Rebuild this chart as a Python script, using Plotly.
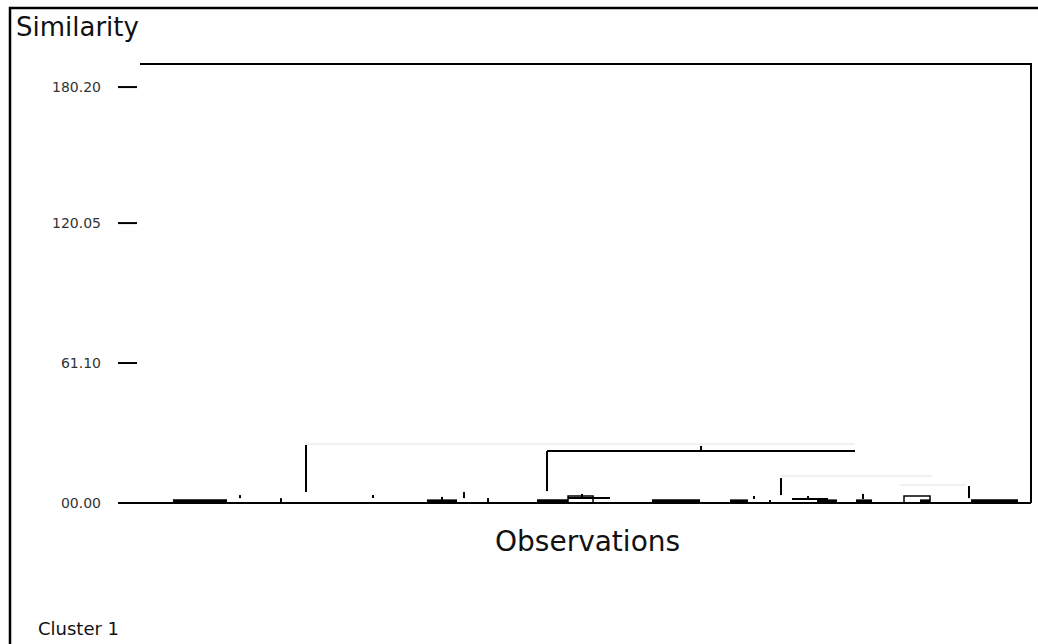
import plotly.graph_objects as go

# ---------------- data ----------------
# y axis: similarity
tick_vals = [0.0, 60.07, 120.13, 178.5]
tick_text = ["00.00", "61.10", "120.05", "180.20"]

# x positions are observation positions on a 0..100 scale
# root link (top bar and right side)
root_x0, root_x1, root_h = 2.41, 100.0, 188.4

# structural stems (x, low, high) in similarity units
stem_x  = [20.59, 46.99, 63.86, 72.62, 93.21, 13.36, 17.85, 27.93, 35.49, 37.90, 40.53, 50.82, 69.66, 71.41, 75.58, 81.60]
stem_lo = [4.7,   5.1,   22.3,  3.4,   2.1,   2.1,   0.0,   2.1,   1.3,   2.1,   0.0,   2.1,   1.7,   0.0,   1.7,   1.7]
stem_hi = [24.9,  22.3,  24.5,  10.7,  7.3,   3.4,   2.1,   3.4,   2.6,   4.7,   2.1,   3.9,   3.0,   1.3,   3.0,   3.9]

# horizontal links (x0, x1, h)
hlink_x0 = [46.99, 49.29, 73.82]
hlink_x1 = [80.72, 53.89, 77.77]
hlink_h  = [22.3,  2.1,   1.7]

# faint grey links (x0, x1, h)
faint_x0 = [20.59, 72.62, 85.65]
faint_x1 = [80.72, 89.16, 92.88]
faint_h  = [25.3,  11.6,  7.7]

# dense clusters drawn as thick bars on the baseline (x0, x1)
bar_x0 = [6.02, 33.84, 45.89, 58.49, 67.03, 76.56, 80.83, 87.84, 93.43]
bar_x1 = [11.94, 37.13, 49.29, 63.75, 69.00, 78.75, 82.59, 88.94, 98.58]

# small hollow boxes (x0, x1, h)
box_x0 = [49.29, 86.09]
box_x1 = [52.03, 88.94]
box_h  = [3.0,   3.0]

dash_len = 2.08  # tick dash length on the x scale


def segs(pairs):
    xs, ys = [], []
    for (xa, ya, xb, yb) in pairs:
        xs += [xa, xb, None]
        ys += [ya, yb, None]
    return xs, ys


fig = go.Figure()

# faint links
xs, ys = segs([(a, h, b, h) for a, b, h in zip(faint_x0, faint_x1, faint_h)])
fig.add_trace(go.Scatter(x=xs, y=ys, mode="lines", line=dict(color="#ededed", width=1.5),
                         hoverinfo="skip", showlegend=False))

# baseline
fig.add_trace(go.Scatter(x=[0, root_x1], y=[0, 0], mode="lines", line=dict(color="black", width=2),
                         hoverinfo="skip", showlegend=False))

# root
fig.add_trace(go.Scatter(x=[root_x0, root_x1, root_x1], y=[root_h, root_h, 0], mode="lines",
                         line=dict(color="black", width=2), hoverinfo="skip", showlegend=False))

# tick dashes
xs, ys = segs([(0, v, dash_len, v) for v in tick_vals])
fig.add_trace(go.Scatter(x=xs, y=ys, mode="lines", line=dict(color="black", width=2),
                         hoverinfo="skip", showlegend=False))

# stems
xs, ys = segs([(x, lo, x, hi) for x, lo, hi in zip(stem_x, stem_lo, stem_hi)])
fig.add_trace(go.Scatter(x=xs, y=ys, mode="lines", line=dict(color="black", width=2),
                         hoverinfo="skip", showlegend=False))

# horizontal links
xs, ys = segs([(a, h, b, h) for a, b, h in zip(hlink_x0, hlink_x1, hlink_h)])
fig.add_trace(go.Scatter(x=xs, y=ys, mode="lines", line=dict(color="black", width=2),
                         hoverinfo="skip", showlegend=False))

# thick bars
xs, ys = segs([(a, 0.7, b, 0.7) for a, b in zip(bar_x0, bar_x1)])
fig.add_trace(go.Scatter(x=xs, y=ys, mode="lines", line=dict(color="black", width=4),
                         hoverinfo="skip", showlegend=False))

# hollow boxes
bxs, bys = [], []
for a, b, h in zip(box_x0, box_x1, box_h):
    bxs += [a, a, b, b, None]
    bys += [0, h, h, 0, None]
fig.add_trace(go.Scatter(x=bxs, y=bys, mode="lines", line=dict(color="black", width=1.5),
                         hoverinfo="skip", showlegend=False))

W, H = 1038, 644
L, R, T, B = 118, 2, 60, 134
pw, ph = W - L - R, H - T - B


def px2paper_x(px):
    return (px - L) / pw


def px2paper_y(py):
    return (H - B - py) / ph


fig.add_shape(type="rect", xref="paper", yref="paper",
              x0=px2paper_x(10), x1=px2paper_x(1060), y0=px2paper_y(670), y1=px2paper_y(8),
              line=dict(color="black", width=2.5), fillcolor="rgba(0,0,0,0)", layer="above")

fig.add_annotation(text="Similarity", xref="paper", yref="paper", x=px2paper_x(14), y=px2paper_y(10),
                   xanchor="left", yanchor="top", showarrow=False,
                   font=dict(family="DejaVu Sans", size=26, color="#111"))
fig.add_annotation(text="Observations", xref="paper", yref="paper", x=px2paper_x(587), y=px2paper_y(523),
                   xanchor="center", yanchor="top", showarrow=False,
                   font=dict(family="DejaVu Sans", size=28, color="#111"))
fig.add_annotation(text="Cluster 1", xref="paper", yref="paper", x=px2paper_x(36), y=px2paper_y(616),
                   xanchor="left", yanchor="top", showarrow=False,
                   font=dict(family="DejaVu Sans", size=18, color="#111"))

x_span = 100.0 * pw / (1031 - 118)
px_per_unit = (503 - 64) / root_h
y_lo = -(510 - 503) / px_per_unit
y_hi = root_h + (64 - 60) / px_per_unit

fig.update_layout(
    width=W, height=H,
    margin=dict(l=L, r=R, t=T, b=B),
    paper_bgcolor="white", plot_bgcolor="white",
    showlegend=False,
    xaxis=dict(range=[0, x_span], visible=False, fixedrange=True),
    yaxis=dict(range=[y_lo, y_hi], tickvals=tick_vals, ticktext=tick_text, showgrid=False,
               zeroline=False, showline=False, ticks="", ticklabelstandoff=16,
               tickfont=dict(family="DejaVu Sans", size=14, color="#333"), fixedrange=True),
)

fig.write_html("out.html")
